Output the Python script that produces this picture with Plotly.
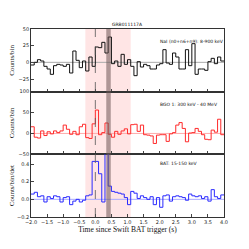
import numpy as np
import plotly.graph_objects as go
from plotly.subplots import make_subplots

# bin left edges, 0.1 s bins from -2.0 to 3.9
t_edges = [round(-2.0 + 0.1 * k, 1) for k in range(61)]

nai = [-4, 0, 4, 2, -6, -10, -18, -5, -3, -4,
       -6, -3, -16, 17, 3, -8, 2, -13, 8, -6,
       23, 22, 30, 14, 38, -2, 2, -6, 12, -3,
       4, -6, -20, 1, -7, -3, -5, -10, -10, -4,
       -2, 19, -1, -3, 14, 8, -10, -10, 19, -5,
       28, -18, -10, -10, -12, 1, 6, -2, 8, 2]

bgo = [16, -9, -11, 6, -5, 4, -1, 6, 2, 6,
       20, 10, -2, 5, -3, 16, 22, -10, -12, 23,
       56, -3, 2, 25, -2, -9, 5, -2, 6, 11,
       -1, 21, 22, 5, 20, -3, -4, -6, -24, -4,
       -3, -3, -19, -1, 2, 20, 26, 12, -20, 1,
       2, 12, 5, -3, -14, -15, 8, 3, 34, -3]

bat = [0.06, 0.08, 0.03, 0.04, -0.03, 0.03, 0.01, 0.04, 0.03, -0.03,
       0.02, 0.03, -0.06, -0.02, 0.0, -0.03, -0.01, 0.04, 0.05, 0.43,
       0.43, 0.29, -0.03, 0.58, 0.15, 0.09, 0.08, 0.07, 0.06, 0.02,
       -0.06, 0.09, 0.07, 0.01, 0.04, 0.02, 0.0, 0.03, -0.06, 0.02,
       -0.09, 0.04, 0.05, -0.02, 0.03, 0.04, 0.03, 0.02, -0.01, 0.06,
       0.04, 0.03, 0.04, 0.01, 0.03, -0.02, 0.11, 0.03, 0.01, 0.05]

title_text = "GRB011117A"
labels = ["NaI (n0+n6+n9): 8-900 keV", "BGO 1: 300 keV - 40 MeV", "BAT: 15-150 keV"]
ylabels = ["Counts/bin", "Counts/bin", "Counts/bin/det"]
window = [-0.31, 1.1]
grey_band = [0.34, 0.48]

colors = ["#111111", "#ff2a2a", "#2a2aff"]
zero_colors = ["#aaaaaa", "#ffaaaa", "#aaaaff"]
yranges = [[-44, 50], [-50, 100], [-0.2, 0.51]]
yticks = [[-25, 0, 25, 50], [-50, 0, 50, 100], [-0.2, 0.0, 0.2, 0.4]]
ytickfmt = ["d", "d", ".1f"]

fig = make_subplots(rows=3, cols=1, shared_xaxes=True, vertical_spacing=0)

for i, vals in enumerate([nai, bgo, bat]):
    yv = list(vals) + [vals[-1]]
    fig.add_trace(go.Scatter(x=[-2.0, 4.0], y=[0, 0], mode="lines",
                             line=dict(color=zero_colors[i], width=1),
                             hoverinfo="skip", showlegend=False), row=i + 1, col=1)
    fig.add_trace(go.Scatter(x=t_edges, y=yv, mode="lines", line_shape="hv",
                             line=dict(color=colors[i], width=1),
                             showlegend=False), row=i + 1, col=1)

serif = "Liberation Serif, Times New Roman, serif"
sans = "DejaVu Sans, Arial, sans-serif"

for i in range(3):
    fig.update_yaxes(range=yranges[i], tickvals=yticks[i], tickformat=ytickfmt[i],
                     ticks="inside", ticklen=3, tickwidth=0.6, showline=True, mirror=True,
                     linecolor="#333333", linewidth=0.8, showgrid=False, zeroline=False,
                     automargin=False,
                     tickfont=dict(size=5, family=sans, color="#222"),
                     title=dict(text=ylabels[i], font=dict(size=7, family=serif, color="#111"),
                                standoff=3),
                     row=i + 1, col=1)
    fig.update_xaxes(range=[-2.0, 4.0], tickvals=[-2 + 0.5 * k for k in range(13)],
                     tickformat=".1f", ticks="inside", ticklen=3, tickwidth=0.6,
                     showline=True, mirror=True, linecolor="#333333", linewidth=0.8,
                     showgrid=False, zeroline=False, automargin=False,
                     tickfont=dict(size=5, family=sans, color="#222"),
                     showticklabels=(i == 2), row=i + 1, col=1)

fig.update_xaxes(title=dict(text="Time since Swift BAT trigger (s)",
                            font=dict(size=7.5, family=serif, color="#111"), standoff=1),
                 row=3, col=1)

# shaded regions spanning all panels
fig.add_shape(type="rect", xref="x", yref="paper", x0=window[0], x1=window[1], y0=0, y1=1,
              fillcolor="rgba(255,70,70,0.14)", line_width=0, layer="below")
fig.add_shape(type="rect", xref="x", yref="paper", x0=grey_band[0], x1=grey_band[1], y0=0, y1=1,
              fillcolor="rgba(110,85,85,0.55)", line_width=0, layer="above")
fig.add_shape(type="line", xref="x", yref="paper", x0=0, x1=0, y0=0, y1=1,
              line=dict(color="#555555", width=0.8, dash="dash"), layer="above")

ann_y = [0.936, 0.60, 0.287]
for i in range(3):
    fig.add_annotation(text=labels[i], xref="paper", yref="paper", x=0.66, y=ann_y[i],
                       showarrow=False, xanchor="left", yanchor="middle",
                       font=dict(size=4.5, family=sans, color="#111"))

fig.add_annotation(text=title_text, xref="paper", yref="paper", x=0.5, y=1.0,
                   showarrow=False, xanchor="center", yanchor="bottom",
                   font=dict(size=4.5, family=sans, color="#111"))

# page body has an 8px default margin, so the figure is sized to fit the window
fig.update_layout(width=241, height=241, margin=dict(l=23, r=25, t=21, b=32),
                  plot_bgcolor="white", paper_bgcolor="white")

fig.write_html("out.html")
